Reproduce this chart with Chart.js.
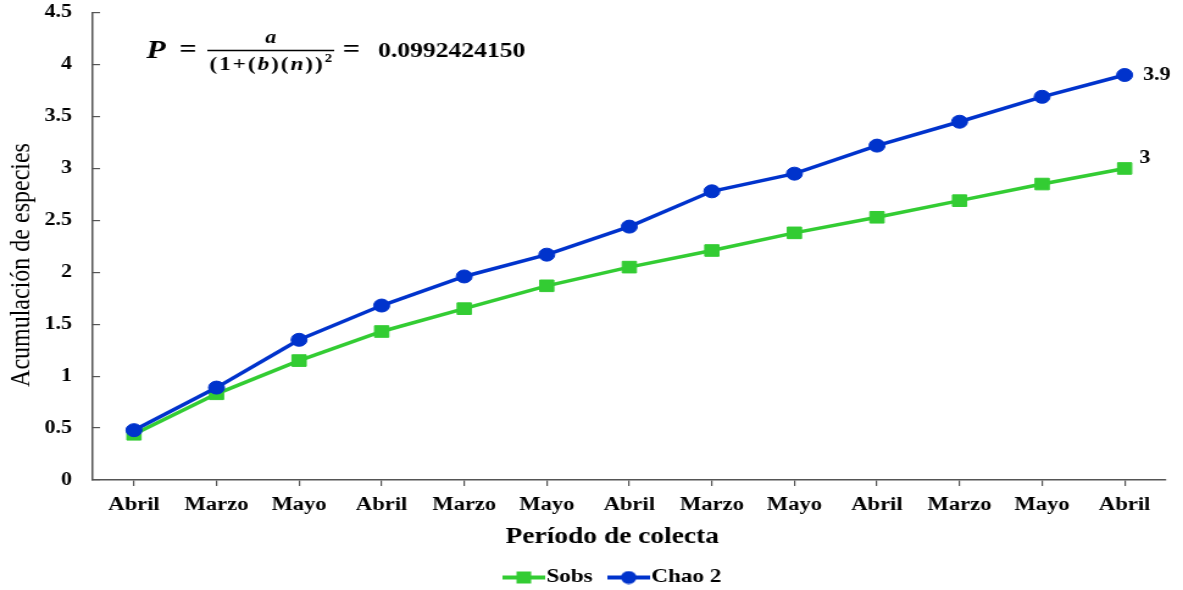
<!DOCTYPE html>
<html>
<head>
<meta charset="utf-8">
<script src="https://cdn.jsdelivr.net/npm/chart.js@4.4.1/dist/chart.umd.min.js"></script>
<style>
  html, body { margin: 0; padding: 0; background: #fff; width: 1183px; height: 590px; overflow: hidden; }
  /* the figure is laid out narrow and widened to the window */
  #wrap { position: absolute; left: 0; top: 0; width: 982px; height: 597px; transform: scaleX(1.2196); transform-origin: 0 0; }
  canvas { display: block; }
</style>
</head>
<body>
<div id="wrap"><canvas id="curve" width="982" height="597"></canvas></div>
<script>
// Sampling periods (x axis)
const periods = ['Abril', 'Marzo', 'Mayo', 'Abril', 'Marzo', 'Mayo', 'Abril', 'Marzo', 'Mayo', 'Abril', 'Marzo', 'Mayo', 'Abril'];
// Observed species richness
const sobs = [0.44, 0.83, 1.15, 1.43, 1.65, 1.87, 2.05, 2.21, 2.38, 2.53, 2.69, 2.85, 3];
// Chao 2 estimator
const chao2 = [0.48, 0.89, 1.35, 1.68, 1.96, 2.17, 2.44, 2.78, 2.95, 3.22, 3.45, 3.69, 3.9];
// Y axis ticks
const yTicks = [0, 0.5, 1, 1.5, 2, 2.5, 3, 3.5, 4, 4.5];

const SERIF = '"Liberation Serif", "Times New Roman", serif';
const GREEN = '#33cc33';
const BLUE = '#0033cc';

// legend symbol: short line with the series marker in the middle
function legendSymbol(color, shape) {
  const c = document.createElement('canvas');
  c.width = 35; c.height = 14;
  const g = c.getContext('2d');
  g.strokeStyle = color; g.lineWidth = 4;
  g.beginPath(); g.moveTo(0, 7); g.lineTo(35, 7); g.stroke();
  g.fillStyle = color;
  if (shape === 'rect') {
    g.fillRect(11.5, 1, 12, 12);
  } else {
    g.beginPath(); g.arc(17.5, 7, 6.5, 0, Math.PI * 2); g.fill();
  }
  return c;
}
const symbols = [legendSymbol(GREEN, 'rect'), legendSymbol(BLUE, 'circle')];

// label offsets for the final-value annotations
const endLabelOffset = [{ dx: 12, dy: -10 }, { dx: 15, dy: 0 }];

// draws a run of [text, italic] pieces with a little extra tracking
function drawPieces(ctx, pieces, size, x, y, track, measureOnly) {
  let cx = x;
  pieces.forEach(([t, it]) => {
    ctx.font = (it ? 'italic bold ' : 'bold ') + size + 'px ' + SERIF;
    for (const ch of t) {
      if (!measureOnly) ctx.fillText(ch, cx, y);
      cx += ctx.measureText(ch).width + track;
    }
  });
  return cx - x;
}

const annotations = {
  id: 'annotations',
  afterDatasetsDraw(chart) {
    const ctx = chart.ctx;
    ctx.save();
    ctx.fillStyle = '#000';

    // final value of each series
    ctx.font = 'bold 18px ' + SERIF;
    ctx.textAlign = 'left';
    ctx.textBaseline = 'middle';
    chart.data.datasets.forEach((ds, i) => {
      const pts = chart.getDatasetMeta(i).data;
      const last = pts[pts.length - 1];
      const v = ds.data[ds.data.length - 1];
      ctx.fillText(String(v), last.x + endLabelOffset[i].dx, last.y + endLabelOffset[i].dy);
    });

    // axis titles
    ctx.textAlign = 'center';
    ctx.font = 'bold 22.5px ' + SERIF;
    ctx.fillText('Período de colecta', 502, 537);

    ctx.save();
    ctx.translate(18, 265);
    ctx.rotate(-Math.PI / 2);
    ctx.font = '24px ' + SERIF;
    ctx.fillText('Acumulación de especies', 0, 0);
    ctx.restore();

    // formula
    ctx.textBaseline = 'alphabetic';
    ctx.textAlign = 'left';
    ctx.font = 'italic bold 26px ' + SERIF;
    ctx.fillText('P', 120, 58);
    ctx.font = 'bold 25px ' + SERIF;
    ctx.fillText('=', 147, 57);

    const fracL = 170, fracR = 274, mid = (fracL + fracR) / 2;
    ctx.font = 'italic bold 18px ' + SERIF;
    ctx.textAlign = 'center';
    ctx.fillText('a', mid, 43);
    ctx.strokeStyle = '#000';
    ctx.lineWidth = 1.5;
    ctx.beginPath(); ctx.moveTo(fracL, 50.5); ctx.lineTo(fracR, 50.5); ctx.stroke();

    ctx.textAlign = 'left';
    const parts = [['(1+(', false], ['b', true], [')(', false], ['n', true], ['))', false]];
    const track = 1.6;
    const w = drawPieces(ctx, parts, 19, 0, 0, track, true);
    ctx.font = 'bold 12px ' + SERIF;
    const supW = ctx.measureText('2').width;
    const x0 = mid - (w + supW) / 2;
    const used = drawPieces(ctx, parts, 19, x0, 70, track, false);
    ctx.font = 'bold 12px ' + SERIF;
    ctx.fillText('2', x0 + used, 62);

    ctx.font = 'bold 25px ' + SERIF;
    ctx.fillText('=', 281, 57);
    ctx.font = 'bold 21px ' + SERIF;
    ctx.fillText('0.0992424150', 310, 57);

    ctx.restore();
  }
};

new Chart(document.getElementById('curve'), {
  type: 'line',
  data: {
    labels: periods,
    datasets: [
      {
        label: 'Sobs', data: sobs, order: 1,
        borderColor: GREEN, backgroundColor: GREEN, borderWidth: 3.5,
        pointStyle: 'rect', pointRadius: 8.2, pointBorderWidth: 1,
        pointBackgroundColor: GREEN, pointBorderColor: GREEN, tension: 0
      },
      {
        label: 'Chao 2', data: chao2, order: 0,
        borderColor: BLUE, backgroundColor: BLUE, borderWidth: 3.5,
        pointStyle: 'circle', pointRadius: 6.5, pointBorderWidth: 1,
        pointBackgroundColor: BLUE, pointBorderColor: BLUE, tension: 0
      }
    ]
  },
  options: {
    responsive: false,
    animation: false,
    devicePixelRatio: 1,
    layout: { padding: { left: 30, right: 0, top: 12.7, bottom: 0 } },
    scales: {
      x: {
        offset: true,
        grid: { drawOnChartArea: false, drawTicks: true, tickLength: 6, color: '#555', lineWidth: 1.2 },
        border: { display: true, color: '#555', width: 1.5 },
        ticks: { font: { family: SERIF, weight: 'bold', size: 18.5 }, color: '#000', padding: 8, maxRotation: 0, autoSkip: false },
        afterFit: s => { s.height = 67.5; }
      },
      y: {
        min: 0, max: 4.5,
        afterBuildTicks: s => { s.ticks = yTicks.map(v => ({ value: v })); },
        grid: { drawOnChartArea: false, drawTicks: true, tickLength: -6, color: '#555', lineWidth: 1.2 },
        border: { display: true, color: '#555', width: 1.5 },
        ticks: { font: { family: SERIF, weight: 'bold', size: 18 }, color: '#000', padding: 23, callback: v => String(v) },
        afterFit: s => { s.width = 46; s.paddingTop = 0; s.paddingBottom = 0; }
      },
      // empty right-hand strip that keeps the plot narrower than the legend row
      gutter: {
        type: 'linear', position: 'right', display: true,
        grid: { display: false }, border: { display: false }, ticks: { display: false },
        afterFit: s => { s.width = 26; s.paddingTop = 0; s.paddingBottom = 0; }
      }
    },
    plugins: {
      legend: {
        position: 'bottom',
        labels: {
          usePointStyle: true,
          pointStyleWidth: 18,
          padding: 20.5,
          color: '#000',
          font: { family: SERIF, weight: 'bold', size: 19 },
          generateLabels: chart => {
            const items = Chart.defaults.plugins.legend.labels.generateLabels(chart);
            items.forEach(it => { it.pointStyle = symbols[it.datasetIndex]; });
            return items;
          },
          sort: (a, b) => a.datasetIndex - b.datasetIndex
        }
      },
      tooltip: { enabled: false }
    }
  },
  plugins: [annotations]
});
</script>
</body>
</html>
